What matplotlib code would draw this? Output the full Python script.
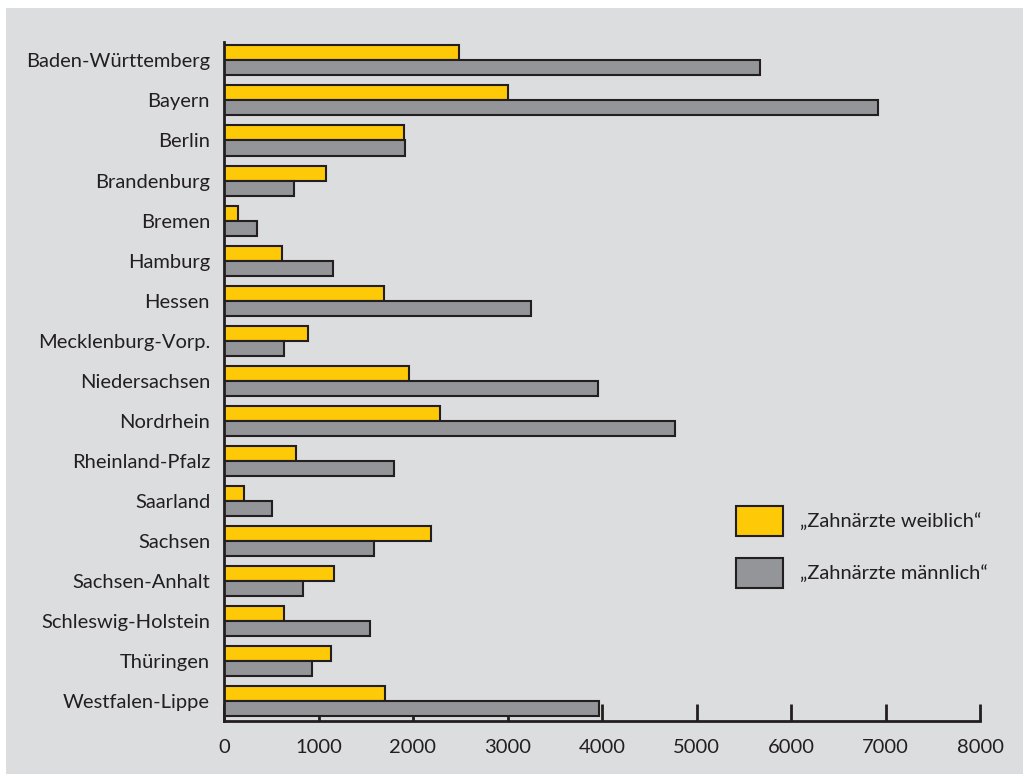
import numpy as np
import matplotlib.pyplot as plt
from matplotlib.patches import Rectangle, Patch

# Zahnärzte nach Kammerbereich und Geschlecht
laender = ['Baden-Württemberg', 'Bayern', 'Berlin', 'Brandenburg', 'Bremen',
           'Hamburg', 'Hessen', 'Mecklenburg-Vorp.', 'Niedersachsen',
           'Nordrhein', 'Rheinland-Pfalz', 'Saarland', 'Sachsen',
           'Sachsen-Anhalt', 'Schleswig-Holstein', 'Thüringen',
           'Westfalen-Lippe']
weiblich = [2490, 3005, 1905, 1080, 150, 615, 1695, 890, 1960, 2285,
            765, 210, 2190, 1165, 635, 1130, 1705]
maennlich = [5670, 6920, 1915, 740, 350, 1155, 3250, 635, 3960, 4770,
             1800, 510, 1590, 835, 1545, 930, 3970]
xticks = [0, 1000, 2000, 3000, 4000, 5000, 6000, 7000, 8000]

hintergrund = '#dcdddf'
gelb = '#fec907'
grau = '#939598'
rand = '#231f20'

plt.rcParams['font.family'] = ['Lato', 'DejaVu Sans']

fig = plt.figure(figsize=(10.23, 7.74), dpi=100, facecolor='white')
fig.patches.append(Rectangle((6 / 1023, 0), 1, 1 - 8 / 774,
                             transform=fig.transFigure, facecolor=hintergrund,
                             edgecolor='none', zorder=-10))

ax = fig.add_axes([224 / 1023, 1 - 721 / 774, 756 / 1023, 679 / 774])
ax.set_facecolor('none')

y = np.arange(len(laender))
h = 0.375
ax.barh(y - h / 2, weiblich, height=h, color=gelb, edgecolor=rand,
        linewidth=1.5, zorder=3)
ax.barh(y + h / 2, maennlich, height=h, color=grau, edgecolor=rand,
        linewidth=1.5, zorder=3)

ax.set_xlim(0, 8000)
ax.set_ylim(16.5, -0.46)
ax.set_xticks(xticks)
ax.set_yticks(y)
ax.set_yticklabels(laender)

for s in ['top', 'right']:
    ax.spines[s].set_visible(False)
for s in ['left', 'bottom']:
    ax.spines[s].set_linewidth(2)
    ax.spines[s].set_color(rand)
    ax.spines[s].set_zorder(4)

ax.tick_params(axis='x', direction='in', length=12, width=2, color=rand,
               labelsize=14.5, labelcolor=rand, pad=13)
ax.tick_params(axis='y', direction='in', length=14, width=2, color=rand,
               labelsize=14.5, labelcolor=rand, pad=10)

handles = [Patch(facecolor=gelb, edgecolor=rand, linewidth=1.5),
           Patch(facecolor=grau, edgecolor=rand, linewidth=1.5)]
ax.legend(handles, ['\u201eZahnärzte weiblich\u201c', '\u201eZahnärzte männlich\u201c'],
          loc='upper left', bbox_to_anchor=(512 / 756, 215 / 679),
          frameon=False, borderpad=0, borderaxespad=0,
          fontsize=14.5, handlelength=2.34, handleheight=1.9, labelspacing=1.1,
          handletextpad=0.85, labelcolor=rand)

fig.savefig('out.png', dpi=100, facecolor='white')
